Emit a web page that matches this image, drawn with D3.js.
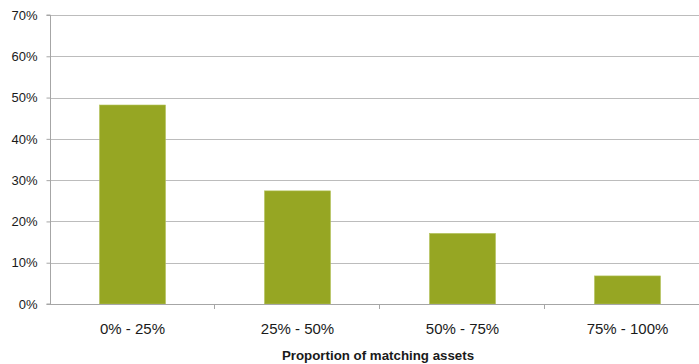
<!DOCTYPE html>
<html>
<head>
<meta charset="utf-8">
<script src="https://cdn.jsdelivr.net/npm/d3@7"></script>
<style>
  html, body { margin: 0; padding: 0; background: #fff; }
  svg { display: block; font-family: "Liberation Sans", Arial, sans-serif; }
</style>
</head>
<body>
<svg id="chart" width="699" height="364"></svg>
<script>
// Share of respondents by proportion of matching assets
const categories = ["0% - 25%", "25% - 50%", "50% - 75%", "75% - 100%"];
const shares = [0.482, 0.274, 0.171, 0.068];
const yTicks = [0, 0.1, 0.2, 0.3, 0.4, 0.5, 0.6, 0.7];
const xTitle = "Proportion of matching assets";

const svg = d3.select("#chart");
const plotLeft = 50, plotRight = 710, plotTop = 15, plotBottom = 304;

const x = d3.scaleBand().domain(categories).range([plotLeft, plotRight]).paddingInner(0.6).paddingOuter(0.3);
const xBand = d3.scaleBand().domain(categories).range([plotLeft, plotRight]);
const y = d3.scaleLinear().domain([0, 0.7]).range([plotBottom, plotTop]);

// horizontal gridlines
svg.append("g").selectAll("line").data(yTicks.filter(d => d > 0)).join("line")
  .attr("x1", plotLeft).attr("x2", plotRight)
  .attr("y1", d => Math.round(y(d)) + 0.5).attr("y2", d => Math.round(y(d)) + 0.5)
  .attr("stroke", "#bcbcbc").attr("stroke-width", 1.2);

// bars
svg.append("g").selectAll("rect").data(shares).join("rect")
  .attr("x", (d, i) => x(categories[i]))
  .attr("width", x.bandwidth())
  .attr("y", d => y(d))
  .attr("height", d => y(0) - y(d))
  .attr("fill", "#96a623")
  .attr("stroke", "#b3c25a").attr("stroke-width", 0.6);

// y axis
const yAxis = d3.axisLeft(y).tickValues(yTicks).tickFormat(d3.format(".0%")).tickSize(4).tickPadding(9);
const gy = svg.append("g").attr("transform", `translate(${plotLeft + 0.5},0)`).call(yAxis);
gy.select(".domain").attr("stroke", "#a6a6a6").attr("d", `M-4,${plotTop}H0V${plotBottom}H-4`);
gy.selectAll(".tick line").attr("stroke", "#a6a6a6");
gy.selectAll(".tick text").attr("font-size", 13).attr("fill", "#1a1a1a");

// x axis baseline with category boundary ticks
const gx = svg.append("g");
gx.append("line").attr("x1", plotLeft).attr("x2", plotRight)
  .attr("y1", plotBottom + 0.5).attr("y2", plotBottom + 0.5).attr("stroke", "#a6a6a6").attr("stroke-width", 1.2);
gx.selectAll("line.bnd").data(categories.slice(1)).join("line").attr("class", "bnd")
  .attr("x1", d => Math.round(xBand(d)) - 0.5).attr("x2", d => Math.round(xBand(d)) - 0.5)
  .attr("y1", plotBottom).attr("y2", plotBottom + 5).attr("stroke", "#a6a6a6");
gx.selectAll("text").data(categories).join("text")
  .attr("x", d => xBand(d) + xBand.bandwidth() / 2)
  .attr("y", 334)
  .attr("text-anchor", "middle").attr("font-size", 15).attr("fill", "#1a1a1a")
  .text(d => d);

// axis title
svg.append("text").attr("x", (plotLeft + plotRight) / 2 - 2).attr("y", 360)
  .attr("text-anchor", "middle").attr("font-size", 13.3).attr("font-weight", "bold").attr("fill", "#1a1a1a")
  .text(xTitle);
</script>
</body>
</html>
